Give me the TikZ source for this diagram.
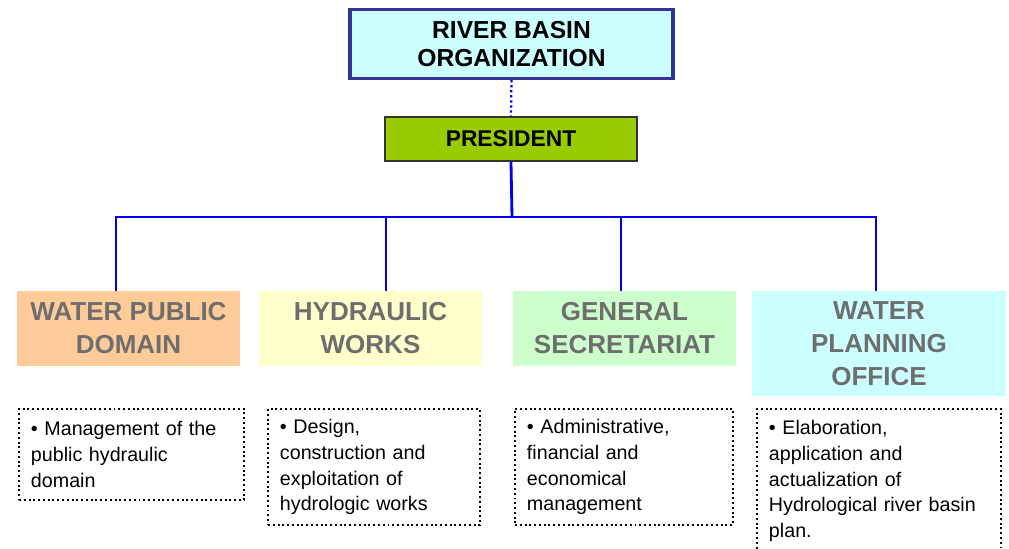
\documentclass[tikz,border=0pt]{standalone}
\usepackage{fontspec}
\setmainfont{Liberation Sans}
\usepackage{tikz}

\definecolor{orgblue}{HTML}{333399}
\definecolor{orgcyan}{HTML}{CCFFFF}
\definecolor{presgreen}{HTML}{99CC00}
\definecolor{peach}{HTML}{FFCC99}
\definecolor{paleyellow}{HTML}{FFFFCC}
\definecolor{palegreen}{HTML}{CCFFCC}
\definecolor{headgray}{HTML}{6E6E6E}
\definecolor{linkblue}{HTML}{0000EE}

\begin{document}
\begin{tikzpicture}[x=0.025cm, y=-0.025cm,
  head/.style={draw=none, align=center, text=headgray,
    font=\fontsize{18.5}{23.5}\selectfont\bfseries, minimum width=5.575cm, minimum height=1.875cm},
  desc/.style={draw, dotted, line width=1.4pt, anchor=north west, align=left,
    inner xsep=0.3cm, font=\fontsize{14}{18.4}\selectfont},
  link/.style={linkblue, line width=2pt}]
  \useasboundingbox (0,0) rectangle (1009,548);

  \node [draw=orgblue, line width=2.2pt, fill=orgcyan, align=center,
    minimum width=8.075cm, minimum height=1.725cm,
    font=\fontsize{17.5}{20.5}\selectfont\bfseries] (rbo) at (511.5,44)
    {RIVER BASIN\\ORGANIZATION};
  \node [draw=black!80, line width=1.4pt, fill=presgreen,
    minimum width=6.3cm, minimum height=1.1cm,
    font=\fontsize{16.2}{18}\selectfont\bfseries] (pres) at (511,139) {PRESIDENT};

  \node [head, fill=peach] (wpd) at (128.5,328.5) {WATER PUBLIC\\DOMAIN};
  \node [head, fill=paleyellow] (hw) at (370.5,328.5) {HYDRAULIC\\WORKS};
  \node [head, fill=palegreen] (gs) at (624.5,328.5) {GENERAL\\SECRETARIAT};
  \node [head, fill=orgcyan, minimum width=6.35cm, minimum height=2.625cm]
    (wpo) at (879,343.5) {WATER\\PLANNING\\OFFICE};

  \node [desc, text width=5.025cm, minimum height=2.275cm] (wpdtxt) at (18,408)
    {• Management of the\\public hydraulic\\domain};
  \node [desc, text width=4.7cm, minimum height=2.9cm] (hwtxt) at (267,408)
    {• Design,\\construction and\\exploitation of\\hydrologic works};
  \node [desc, text width=4.85cm, minimum height=2.9cm] (gstxt) at (514,408)
    {• Administrative,\\financial and\\economical\\management};
  \node [desc, text width=5.5cm, minimum height=3.6cm] (wpotxt) at (756,408)
    {• Elaboration,\\application and\\actualization of\\Hydrological river basin\\plan.};

  \coordinate (bus) at (512,217);
  \draw [linkblue, dotted, line width=1.6pt] (rbo.south) -- (pres.north);
  \draw [link] (pres.south) -- (bus);
  \draw [link] (bus) -| ([shift={(-12.5,0)}]wpd.north);
  \draw [link] (bus) -| ([shift={(15.5,0)}]hw.north);
  \draw [link] (bus) -| ([shift={(-3.5,0)}]gs.north);
  \draw [link] (bus) -| ([shift={(-3,0)}]wpo.north);
\end{tikzpicture}
\end{document}
